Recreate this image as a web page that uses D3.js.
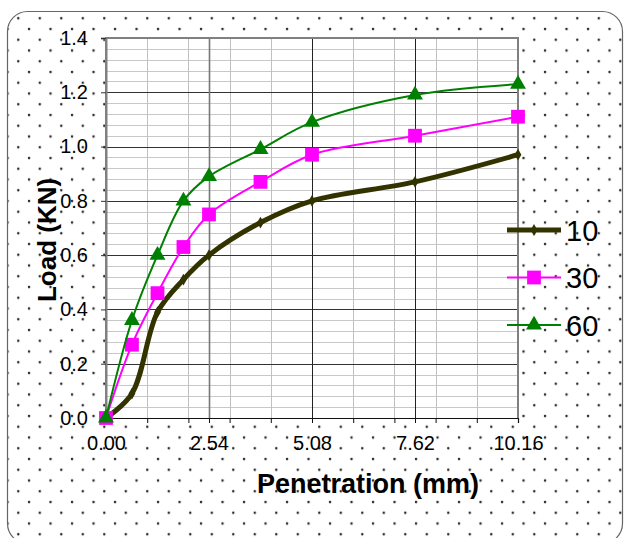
<!DOCTYPE html>
<html>
<head>
<meta charset="utf-8">
<script src="https://cdn.jsdelivr.net/npm/d3@7"></script>
<style>
  html, body { margin: 0; padding: 0; background: #fff; }
  svg { display: block; }
  text { font-family: "Liberation Sans", Arial, sans-serif; fill: #000; }
</style>
</head>
<body>
<svg id="chart" width="625" height="538"></svg>
<script>
// ---- data ----
const penetration = [0, 0.64, 1.27, 1.91, 2.54, 3.81, 5.08, 7.62, 10.16];
const load10 = [0, 0.09, 0.39, 0.51, 0.60, 0.72, 0.80, 0.87, 0.97];
const load30 = [0, 0.27, 0.46, 0.63, 0.75, 0.87, 0.97, 1.04, 1.11];
const load60 = [0, 0.36, 0.60, 0.80, 0.89, 0.99, 1.09, 1.19, 1.23];
const seriesNames = ["10", "30", "60"];
const xTickLabels = [0, 2.54, 5.08, 7.62, 10.16];
const xMinorTicks = [0, 1.016, 2.032, 2.54, 3.048, 4.064, 5.08, 6.096, 7.112, 7.62, 8.128, 9.144, 10.16];
const yTickLabels = [0, 0.2, 0.4, 0.6, 0.8, 1.0, 1.2, 1.4];
const yMinorStep = 0.04;

const svg = d3.select("#chart");
const W = 625, H = 538;
const plot = { left: 106, right: 518, top: 38, bottom: 418 };

// ---- background pattern ----
const defs = svg.append("defs");
const pat = defs.append("pattern")
  .attr("id", "dots").attr("patternUnits", "userSpaceOnUse")
  .attr("x", 13.3).attr("y", 13.3).attr("width", 21.5).attr("height", 21.5);
pat.append("rect").attr("width", 21.5).attr("height", 21.5).attr("fill", "#fff");
pat.append("circle").attr("cx", 5).attr("cy", 5).attr("r", 1.25).attr("fill", "#2a2a2a");
pat.append("circle").attr("cx", 15.75).attr("cy", 15.75).attr("r", 1.25).attr("fill", "#2a2a2a");

svg.append("rect").attr("x", 0).attr("y", 0).attr("width", W).attr("height", H).attr("fill", "#fff");
svg.append("rect")
  .attr("x", 7.5).attr("y", 11.5).attr("width", 615).attr("height", 532)
  .attr("rx", 20).attr("ry", 20)
  .attr("fill", "url(#dots)").attr("stroke", "#666").attr("stroke-width", 1.2);

// ---- scales ----
const x = d3.scaleLinear().domain([0, 10.16]).range([plot.left, plot.right]);
const y = d3.scaleLinear().domain([0, 1.4]).range([plot.bottom, plot.top]);

// plot area
svg.append("rect")
  .attr("x", plot.left).attr("y", plot.top)
  .attr("width", plot.right - plot.left).attr("height", plot.bottom - plot.top)
  .attr("fill", "#fff");

// minor horizontal gridlines
const yMinor = d3.range(0, 1.4 + 1e-9, yMinorStep);
svg.append("g").selectAll("line").data(yMinor).join("line")
  .attr("x1", plot.left).attr("x2", plot.right)
  .attr("y1", d => Math.round(y(d)) + 0.5).attr("y2", d => Math.round(y(d)) + 0.5)
  .attr("stroke", "#c8c8c8").attr("stroke-width", 1);

// minor vertical gridlines
svg.append("g").selectAll("line").data(xMinorTicks).join("line")
  .attr("x1", d => Math.round(x(d)) + 0.5).attr("x2", d => Math.round(x(d)) + 0.5)
  .attr("y1", plot.top).attr("y2", plot.bottom)
  .attr("stroke", "#c0c0c0").attr("stroke-width", 1);

// major horizontal gridlines
svg.append("g").selectAll("line").data(yTickLabels).join("line")
  .attr("x1", plot.left).attr("x2", plot.right)
  .attr("y1", d => Math.round(y(d)) + 0.5).attr("y2", d => Math.round(y(d)) + 0.5)
  .attr("stroke", "#333").attr("stroke-width", 1);

// major vertical gridlines
svg.append("g").selectAll("line").data(xTickLabels).join("line")
  .attr("x1", d => Math.round(x(d)) + 0.5).attr("x2", d => Math.round(x(d)) + 0.5)
  .attr("y1", plot.top).attr("y2", plot.bottom)
  .attr("stroke", (d, i) => i === 1 ? "#777" : "#222").attr("stroke-width", (d, i) => i === 1 ? 1.6 : 1);

// plot border (top, right, left gray)
svg.append("path")
  .attr("d", `M${plot.left},${plot.bottom} L${plot.left},${plot.top} L${plot.right},${plot.top} L${plot.right},${plot.bottom}`)
  .attr("fill", "none").attr("stroke", "#808080").attr("stroke-width", 2);

// ---- axes ----
const xAxis = d3.axisBottom(x).tickValues(xMinorTicks).tickSize(5).tickFormat("");
const gx = svg.append("g").attr("transform", `translate(0,${plot.bottom})`).call(xAxis);
gx.select(".domain").attr("stroke", "#111").attr("stroke-width", 1.2);
gx.selectAll(".tick line").attr("stroke", "#111");

const xLab = d3.axisBottom(x).tickValues(xTickLabels).tickSize(0).tickPadding(18).tickFormat(d3.format(".2f"));
const gxl = svg.append("g").attr("transform", `translate(0,${plot.bottom})`).call(xLab);
gxl.select(".domain").remove();
gxl.selectAll("text").attr("font-size", 20).attr("font-family", "Liberation Sans, Arial, sans-serif").attr("fill", "#000");

const yAxis = d3.axisLeft(y).tickValues(yTickLabels).tickSize(5).tickPadding(13).tickFormat(d3.format(".1f"));
const gy = svg.append("g").attr("transform", `translate(${plot.left},0)`).call(yAxis);
gy.select(".domain").attr("stroke", "#808080").attr("stroke-width", 2);
gy.selectAll(".tick line").attr("stroke", "#333");
gy.selectAll("text").attr("font-size", 20).attr("font-family", "Liberation Sans, Arial, sans-serif").attr("fill", "#000");

// ---- series ----
const series = [
  { name: seriesNames[0], values: load10, color: "#333300", width: 5, marker: "diamond", size: 40 },
  { name: seriesNames[1], values: load30, color: "#ff00ff", width: 2, marker: "square", size: 190 },
  { name: seriesNames[2], values: load60, color: "#008000", width: 2, marker: "triangle", size: 110 }
];
const symbolType = { diamond: d3.symbolDiamond, square: d3.symbolSquare, triangle: d3.symbolTriangle };

const line = d3.line().x(d => x(d[0])).y(d => y(d[1])).curve(d3.curveCatmullRom.alpha(0.5));

series.forEach(s => {
  const pts = penetration.map((p, i) => [p, s.values[i]]);
  svg.append("path").datum(pts)
    .attr("d", line).attr("fill", "none")
    .attr("stroke", s.color).attr("stroke-width", s.width)
    .attr("stroke-linejoin", "round").attr("stroke-linecap", "round");
  svg.append("g").selectAll("path").data(pts).join("path")
    .attr("transform", d => `translate(${x(d[0])},${y(d[1])})`)
    .attr("d", d3.symbol().type(symbolType[s.marker]).size(s.size))
    .attr("fill", s.color);
});

// ---- legend ----
const legY = [230, 277.5, 325];
series.forEach((s, i) => {
  const g = svg.append("g").attr("transform", `translate(0,${legY[i]})`);
  g.append("line").attr("x1", 507).attr("x2", 561).attr("y1", 0).attr("y2", 0)
    .attr("stroke", s.color).attr("stroke-width", s.width);
  g.append("path").attr("transform", "translate(534,0)")
    .attr("d", d3.symbol().type(symbolType[s.marker]).size(s.size)).attr("fill", s.color);
  g.append("text").attr("x", 566).attr("y", 10.5).attr("font-size", 29).text(s.name);
});

// ---- axis titles ----
svg.append("text").attr("x", 368).attr("y", 493).attr("text-anchor", "middle")
  .attr("font-size", 27).attr("font-weight", "bold").text("Penetration (mm)");
svg.append("text").attr("transform", "translate(56,240) rotate(-90)").attr("text-anchor", "middle")
  .attr("font-size", 26).attr("font-weight", "bold").text("Load (KN)");
</script>
</body>
</html>
